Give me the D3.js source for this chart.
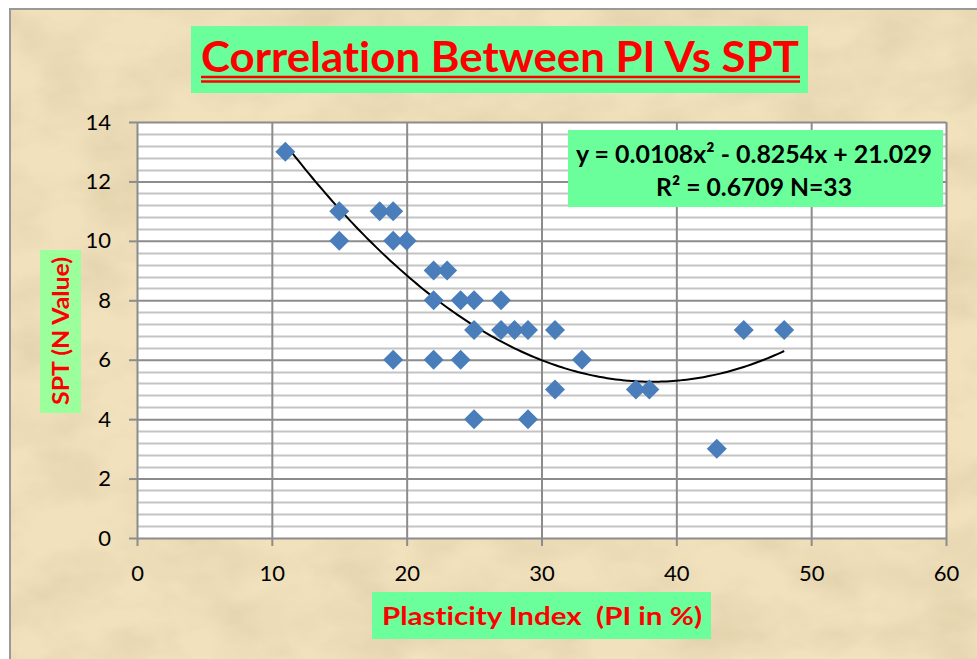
<!DOCTYPE html>
<html>
<head>
<meta charset="utf-8">
<script src="https://cdn.jsdelivr.net/npm/d3@7/dist/d3.min.js"></script>
<style>
  body { margin: 0; background: #fff; }
  svg { display: block; }
  text { font-family: Lato, "Open Sans", sans-serif; font-variant-ligatures: none; white-space: pre; }
</style>
</head>
<body>
<script>
// data
var piValues  = [11, 15, 15, 18, 19, 19, 20, 19, 22, 23, 22, 22, 24, 25, 24, 25, 25, 27, 27, 28, 29, 29, 31, 31, 33, 37, 38, 43, 45, 48];
var sptValues = [13, 11, 10, 11, 11, 10, 10,  6,  9,  9,  8,  6,  8,  8,  6,  7,  4,  8,  7,  7,  7,  4,  7,  5,  6,  5,  5,  3,  7,  7];
var trendCoef = [0.0108, -0.8254, 21.029]; // y = a x^2 + b x + c
var trendRange = [11, 48];
var xTicks = [0, 10, 20, 30, 40, 50, 60];
var yTicks = [0, 2, 4, 6, 8, 10, 12, 14];
var titleText = 'Correlation Between PI Vs SPT';
var xLabel = 'Plasticity Index  (PI in %)';
var yLabel = 'SPT (N Value)';
var eqLines = ['y = 0.0108x\u00b2 - 0.8254x + 21.029', 'R\u00b2 = 0.6709 N=33'];

var W = 977, H = 659;
var plot = {left: 137, right: 946, top: 122, bottom: 538};

var svg = d3.select('body').append('svg')
    .attr('width', W)
    .attr('height', H);

// parchment texture
var defs = svg.append('defs');
var f = defs.append('filter').attr('id', 'paper')
    .attr('x', 0).attr('y', 0).attr('width', '100%').attr('height', '100%');
f.append('feTurbulence')
    .attr('type', 'fractalNoise')
    .attr('baseFrequency', '0.012 0.02')
    .attr('numOctaves', 4)
    .attr('seed', 7)
    .attr('result', 'noise');
f.append('feColorMatrix')
    .attr('in', 'noise')
    .attr('type', 'matrix')
    .attr('values', '0 0 0 0 0.55  0 0 0 0 0.45  0 0 0 0 0.25  0 0 0 -1.6 1.05');

svg.append('rect')
    .attr('x', 10).attr('y', 9)
    .attr('width', W).attr('height', H)
    .attr('fill', '#f1e1bd')
    .attr('stroke', '#999')
    .attr('stroke-width', 2);
svg.append('rect')
    .attr('x', 11).attr('y', 10)
    .attr('width', W - 11).attr('height', H - 10)
    .attr('filter', 'url(#paper)')
    .attr('opacity', 0.35);

var x = d3.scaleLinear().domain([0, 60]).range([plot.left, plot.right]);
var y = d3.scaleLinear().domain([0, 14]).range([plot.bottom, plot.top]);

// plot area
svg.append('rect')
    .attr('x', plot.left).attr('y', plot.top)
    .attr('width', plot.right - plot.left)
    .attr('height', plot.bottom - plot.top)
    .attr('fill', '#fff');

var minor = d3.range(0, 14.01, 0.4).filter(function(v) {
  return Math.abs(v / 2 - Math.round(v / 2)) > 0.01;
});
svg.append('g').selectAll('line')
    .data(minor)
  .enter().append('line')
    .attr('x1', plot.left).attr('x2', plot.right)
    .attr('y1', function(d) { return Math.round(y(d)) + 0.5; })
    .attr('y2', function(d) { return Math.round(y(d)) + 0.5; })
    .attr('stroke', '#c4c4c4')
    .attr('stroke-width', 2);

var gy = svg.append('g')
    .attr('transform', 'translate(' + plot.left + ',0)')
    .call(d3.axisLeft(y).tickValues(yTicks).tickSize(8).tickPadding(18));
gy.selectAll('.tick line').clone()
    .attr('x2', plot.right - plot.left);

var gx = svg.append('g')
    .attr('transform', 'translate(0,' + plot.bottom + ')')
    .call(d3.axisBottom(x).tickValues(xTicks).tickSize(8));
gx.selectAll('.tick line').clone()
    .attr('y2', -(plot.bottom - plot.top));

[gx, gy].forEach(function(g) {
  g.select('.domain').remove();
  g.selectAll('line').attr('stroke', '#8c8c8c').attr('stroke-width', 2);
  g.selectAll('text')
      .attr('fill', '#000')
      .style('font-size', '22px')
      .style('font-family', 'Lato, sans-serif');
});
gx.selectAll('text').attr('y', 43).attr('dy', 0);

// trend line
var trend = d3.range(trendRange[0], trendRange[1] + 0.01, 0.25).map(function(v) {
  return [v, trendCoef[0] * v * v + trendCoef[1] * v + trendCoef[2]];
});
svg.append('path')
    .datum(trend)
    .attr('fill', 'none')
    .attr('stroke', '#000')
    .attr('stroke-width', 2)
    .attr('d', d3.line()
      .x(function(d) { return x(d[0]); })
      .y(function(d) { return y(d[1]); })
      .curve(d3.curveMonotoneX));

// points
var points = piValues.map(function(v, i) { return [v, sptValues[i]]; });
svg.append('g').selectAll('path')
    .data(points)
  .enter().append('path')
    .attr('d', d3.symbol().type(d3.symbolSquare).size(200))
    .attr('transform', function(d) {
      return 'translate(' + x(d[0]) + ',' + y(d[1]) + ') rotate(45)';
    })
    .attr('fill', '#4a7ebb');

// equation box
svg.append('rect')
    .attr('x', 568).attr('y', 130)
    .attr('width', 375).attr('height', 77)
    .attr('fill', '#6bff9b');
svg.append('g').selectAll('text')
    .data(eqLines)
  .enter().append('text')
    .attr('x', 754)
    .attr('y', function(d, i) { return 163 + i * 33; })
    .attr('text-anchor', 'middle')
    .attr('font-weight', 'bold')
    .attr('font-size', 24)
    .attr('textLength', function(d, i) { return i ? 196 : 356; })
    .attr('lengthAdjust', 'spacingAndGlyphs')
    .attr('fill', '#000')
    .text(function(d) { return d; });

// title
svg.append('rect')
    .attr('x', 191).attr('y', 26)
    .attr('width', 617).attr('height', 67)
    .attr('fill', '#6bff9b');
svg.append('text')
    .attr('x', 500).attr('y', 72)
    .attr('text-anchor', 'middle')
    .attr('font-weight', 'bold')
    .attr('font-size', 42)
    .attr('textLength', 598)
    .attr('lengthAdjust', 'spacingAndGlyphs')
    .attr('fill', '#ff0000')
    .text(titleText);
svg.append('line')
    .attr('x1', 201).attr('x2', 800)
    .attr('y1', 77).attr('y2', 77)
    .attr('stroke', '#ff0000').attr('stroke-width', 2.5);
svg.append('line')
    .attr('x1', 201).attr('x2', 800)
    .attr('y1', 81.5).attr('y2', 81.5)
    .attr('stroke', '#ff0000').attr('stroke-width', 2.5);

// x axis title
svg.append('rect')
    .attr('x', 372).attr('y', 592)
    .attr('width', 339).attr('height', 47)
    .attr('fill', '#6bff9b');
svg.append('text')
    .attr('x', 542).attr('y', 625)
    .attr('text-anchor', 'middle')
    .attr('font-weight', 'bold')
    .attr('font-size', 25)
    .attr('textLength', 320)
    .attr('lengthAdjust', 'spacingAndGlyphs')
    .attr('fill', '#ff0000')
    .text(xLabel);

// y axis title
svg.append('rect')
    .attr('x', 40).attr('y', 250)
    .attr('width', 41).attr('height', 163)
    .attr('fill', '#9bff9b');
svg.append('text')
    .attr('transform', 'translate(69,331) rotate(-90)')
    .attr('text-anchor', 'middle')
    .attr('font-weight', 'bold')
    .attr('font-size', 22)
    .attr('textLength', 148)
    .attr('lengthAdjust', 'spacingAndGlyphs')
    .attr('fill', '#ff0000')
    .text(yLabel);
</script>
</body>
</html>
